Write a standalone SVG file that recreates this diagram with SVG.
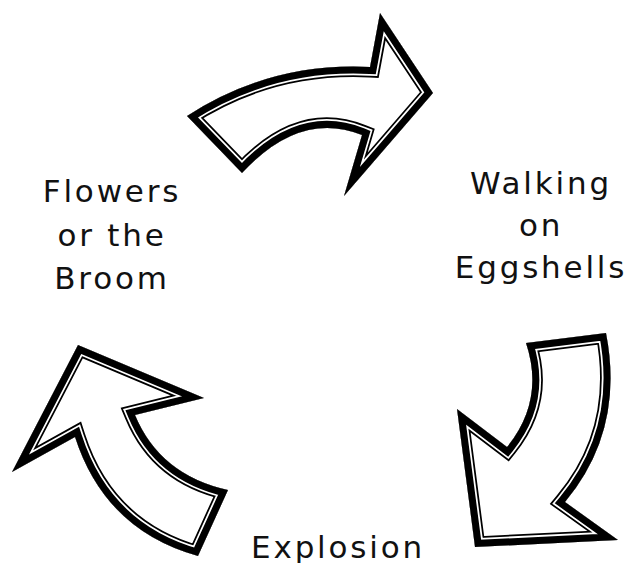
<svg xmlns="http://www.w3.org/2000/svg" xmlns:xlink="http://www.w3.org/1999/xlink" width="628" height="563" viewBox="0 0 628 563">
  <style>
    .lbl { font-family: "DejaVu Sans", Verdana, sans-serif; font-size: 31px; letter-spacing: 2.8px; fill: #111; text-anchor: middle; }
    .o1 { fill: none; stroke: #000; stroke-width: 21; stroke-linejoin: miter; stroke-miterlimit: 20; }
    .o2 { fill: none; stroke: #fff; stroke-width: 17.5; stroke-linejoin: miter; stroke-miterlimit: 20; }
    .o3 { fill: none; stroke: #000; stroke-width: 14; stroke-linejoin: miter; stroke-miterlimit: 20; }
    .bg { fill: #fff; stroke: none; }
  </style>
  <defs>
    <path id="aTop" d="M187,116 Q270,62 370,67 L380,13 L433,93 L344,196 L362,135 Q300,110 242,173 Z"/>
    <path id="aRight" d="M526,343 L606,333 Q625,430 565,502 L618,540 L475,547 L457,409 L507,447 Q545,400 526,343 Z"/>
    <path id="aLeft" d="M78,345 L204,398 L135,415 Q160,475 228,490 L198,556 Q105,530 75,437 L12,472 Z"/>
    <clipPath id="cTop"><use xlink:href="#aTop"/></clipPath>
    <clipPath id="cRight"><use xlink:href="#aRight"/></clipPath>
    <clipPath id="cLeft"><use xlink:href="#aLeft"/></clipPath>
  </defs>
  <rect width="628" height="563" fill="#fff"/>
  <g id="connectors">
    <g id="arrow-top" clip-path="url(#cTop)">
      <use xlink:href="#aTop" class="bg"/>
      <use xlink:href="#aTop" class="o1"/>
      <use xlink:href="#aTop" class="o2"/>
      <use xlink:href="#aTop" class="o3"/>
    </g>
    <g id="arrow-right" clip-path="url(#cRight)">
      <use xlink:href="#aRight" class="bg"/>
      <use xlink:href="#aRight" class="o1"/>
      <use xlink:href="#aRight" class="o2"/>
      <use xlink:href="#aRight" class="o3"/>
    </g>
    <g id="arrow-left" clip-path="url(#cLeft)">
      <use xlink:href="#aLeft" class="bg"/>
      <use xlink:href="#aLeft" class="o1"/>
      <use xlink:href="#aLeft" class="o2"/>
      <use xlink:href="#aLeft" class="o3"/>
    </g>
  </g>
  <g id="node-flowers">
    <text class="lbl" x="112" y="202">Flowers</text>
    <text class="lbl" x="112" y="246">or the</text>
    <text class="lbl" x="112" y="289">Broom</text>
  </g>
  <g id="node-walking">
    <text class="lbl" x="541" y="194">Walking</text>
    <text class="lbl" x="541" y="236">on</text>
    <text class="lbl" x="541" y="278">Eggshells</text>
  </g>
  <g id="node-explosion">
    <text class="lbl" x="338" y="558">Explosion</text>
  </g>
</svg>
